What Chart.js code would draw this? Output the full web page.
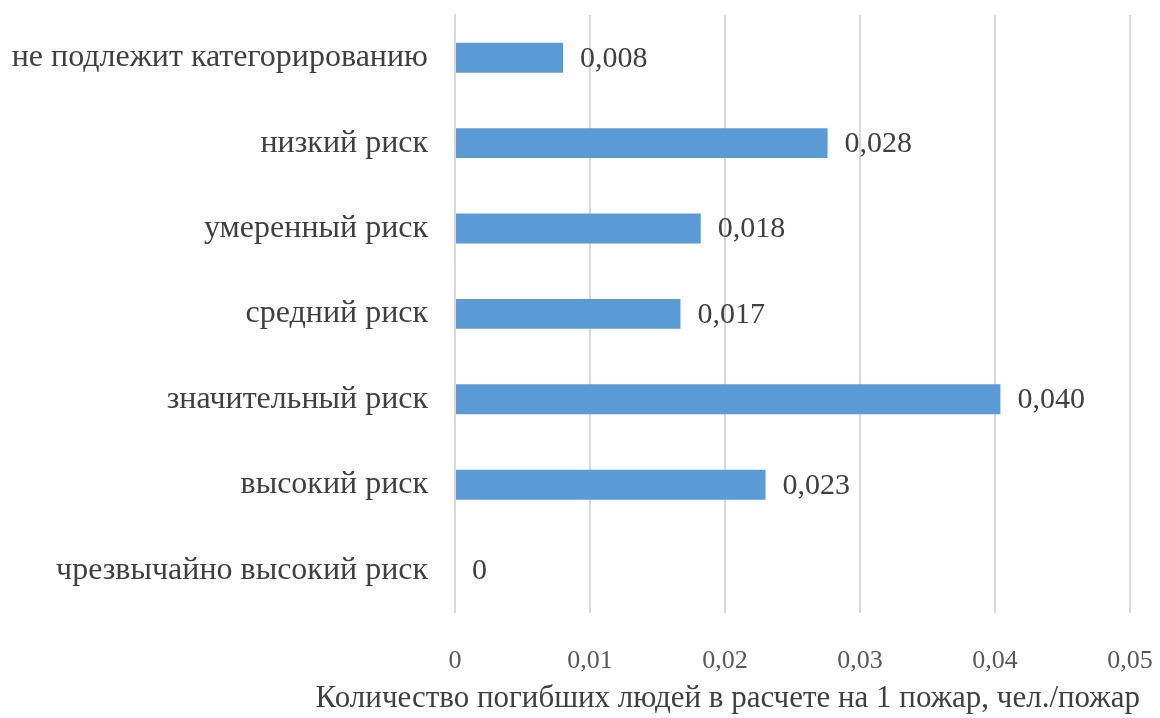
<!DOCTYPE html>
<html>
<head>
<meta charset="utf-8">
<script src="https://cdn.jsdelivr.net/npm/chart.js@4/dist/chart.umd.min.js"></script>
<style>
  html, body { margin: 0; padding: 0; background: #fff; }
  #wrap { width: 1160px; height: 718px; }
</style>
</head>
<body>
<div id="wrap"><canvas id="chart"></canvas></div>
<script>
// категории (сверху вниз)
const categories = [
  'не подлежит категорированию',
  'низкий риск',
  'умеренный риск',
  'средний риск',
  'значительный риск',
  'высокий риск',
  'чрезвычайно высокий риск'
];
// чел./пожар
const deaths = [0.008, 0.0276, 0.0182, 0.0167, 0.0404, 0.023, 0];
const xTicks = [0, 0.01, 0.02, 0.03, 0.04, 0.05];
const axisTitle = 'Количество погибших людей в расчете на 1 пожар, чел./пожар';

const fmt = v => v === 0 ? '0' : String(v).replace('.', ',');
const fmtLabel = v => v === 0 ? '0' : v.toFixed(3).replace('.', ',');

// подписи значений справа от столбцов + подпись оси (без сжатия)
const valueLabels = {
  id: 'valueLabels',
  afterDatasetsDraw(chart) {
    const ctx = chart.ctx;
    const meta = chart.getDatasetMeta(0);
    ctx.save();
    ctx.font = '30px "Liberation Serif"';
    ctx.fillStyle = '#404040';
    ctx.textBaseline = 'middle';
    ctx.textAlign = 'left';
    meta.data.forEach((bar, i) => {
      ctx.fillText(fmtLabel(deaths[i]), bar.x + 17, bar.y + 1);
    });
    ctx.font = '31px "Liberation Serif"';
    ctx.textAlign = 'right';
    ctx.fillText(axisTitle, chart.chartArea.right + 10, chart.height - 19);
    ctx.restore();
  }
};

new Chart(document.getElementById('chart').getContext('2d'), {
  type: 'bar',
  data: {
    labels: categories,
    datasets: [{
      data: deaths,
      backgroundColor: '#5B9BD5',
      barPercentage: 0.35,
      categoryPercentage: 1
    }]
  },
  options: {
    indexAxis: 'y',
    responsive: true,
    maintainAspectRatio: false,
    animation: false,
    layout: { padding: { top: 15, right: 30, bottom: 8, left: 0 } },
    plugins: {
      legend: { display: false },
      tooltip: { enabled: false }
    },
    scales: {
      x: {
        min: 0,
        max: 0.05,
        afterBuildTicks: s => { s.ticks = xTicks.map(v => ({ value: v })); },
        afterFit: s => { s.paddingLeft = 0; s.paddingRight = 0; },
        grid: { color: '#d9d9d9', lineWidth: 2, drawTicks: false },
        border: { display: false },
        ticks: {
          padding: 33,
          color: '#595959',
          font: { family: 'Liberation Serif', size: 26 },
          callback: v => fmt(v)
        }
      },
      y: {
        afterFit: s => { s.width = 455; s.paddingTop = 0; s.paddingBottom = 0; },
        grid: { display: false, drawTicks: false },
        border: { display: true, color: '#d9d9d9', width: 2 },
        ticks: {
          padding: 27,
          color: '#404040',
          font: { family: 'Liberation Serif', size: 32 }
        }
      }
    }
  },
  plugins: [valueLabels]
});
</script>
</body>
</html>
